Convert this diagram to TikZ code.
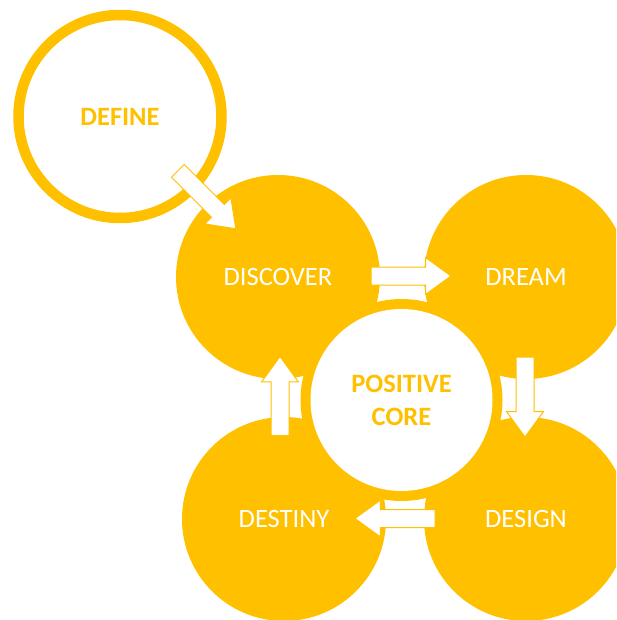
\documentclass[tikz,border=0pt]{standalone}
\usepackage{fontspec}
\setmainfont{Carlito}
\usetikzlibrary{shapes.arrows}
\definecolor{gold}{HTML}{FFC000}
\begin{document}
\begin{tikzpicture}[x=1pt,y=-1pt,
  phase/.style={circle, fill=gold, minimum size=204pt, inner sep=0pt,
    text=white, font=\fontsize{26.5}{33}\selectfont},
  blockarrow/.style={single arrow, fill=white, draw=gold, line width=1pt,
    minimum height=80pt, inner xsep=0pt, inner ysep=8.5pt, anchor=tail,
    single arrow head extend=9.5pt, single arrow tip angle=72},
  corelabel/.style={text=gold, font=\fontsize{26.5}{33}\selectfont\bfseries}]
  \useasboundingbox (0,0) rectangle (616,620);
  \clip (0,0) rectangle (616,620);

  % opening stage, drawn as a ring
  \node[circle, draw=gold, line width=10.5pt, minimum size=203pt, inner sep=0pt,
    corelabel] (define) at (120,116.5) {DEFINE};

  % the four cycle stages
  \node[phase] (discover) at (278,277) {DISCOVER};
  \node[phase] (dream)    at (526,277) {DREAM};
  \node[phase] (design)   at (526,519) {DESIGN};
  \node[phase] (destiny)  at (284,519) {DESTINY};

  % centre: yellow rim around a white disc
  \node[circle, fill=gold, minimum size=202pt, inner sep=0pt] (corering) at (401.5,400) {};
  \node[circle, fill=white, minimum size=182pt, inner sep=0pt, corelabel,
    align=center] (core) at (401.5,400) {POSITIVE\\CORE};

  % block arrows, each placed by its tail
  \node[blockarrow, minimum height=82pt, rotate=-45] (a0) at (177.5,170.5) {};
  \node[blockarrow] (a1) at (370.5,276) {};
  \node[blockarrow, rotate=-90] (a2) at (525,356.5) {};
  \node[blockarrow, rotate=180] (a3) at (435.5,518.5) {};
  \node[blockarrow, minimum height=79pt, rotate=90] (a4) at (280,436) {};
\end{tikzpicture}
\end{document}
